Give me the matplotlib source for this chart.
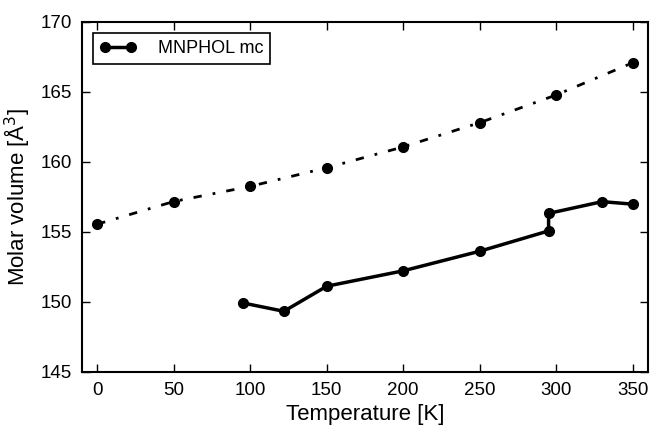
import matplotlib
matplotlib.use("Agg")
import matplotlib.pyplot as plt

# upper (dash-dot) series
temp_fit = [0, 50, 100, 150, 200, 250, 300, 350]
vol_fit = [155.55, 157.17, 158.25, 159.58, 161.07, 162.8, 164.78, 167.08]

# MNPHOL mc measured series
temp_mc = [95, 122, 150, 200, 250, 295, 295, 330, 350]
vol_mc = [149.93, 149.33, 151.12, 152.22, 153.62, 155.07, 156.32, 157.16, 156.98]

plt.rcParams['font.family'] = ['Liberation Sans', 'DejaVu Sans']

fig = plt.figure(figsize=(6.5, 4.28), dpi=100)
ax = fig.add_axes([0.126, 0.131, 0.871, 0.818])

ax.plot(temp_fit, vol_fit, color='black', lw=2, marker='o', ms=7,
        dashes=(3, 4, 1, 4))
ax.plot(temp_mc, vol_mc, color='black', lw=2.5, marker='o', ms=7,
        label='MNPHOL mc')

ax.set_xlim(-10, 360)
ax.set_ylim(145, 170)
ax.set_xticks(range(0, 351, 50))
ax.set_yticks(range(145, 171, 5))
ax.tick_params(direction='in', top=True, right=True, length=6, width=1,
               labelsize=13.5, pad=7)
for s in ax.spines.values():
    s.set_linewidth(1.5)

ax.set_xlabel('Temperature [K]', fontsize=16, labelpad=4)
ax.set_ylabel('Molar volume [Å$^3$]', fontsize=16, labelpad=6)

leg = ax.legend(loc='upper left', fontsize=13, numpoints=2, fancybox=False,
                framealpha=1, edgecolor='black', borderpad=0.4,
                handlelength=2.0, handletextpad=1.2, borderaxespad=0.6)
leg.get_frame().set_linewidth(1.2)

fig.savefig('out.png', dpi=100)
